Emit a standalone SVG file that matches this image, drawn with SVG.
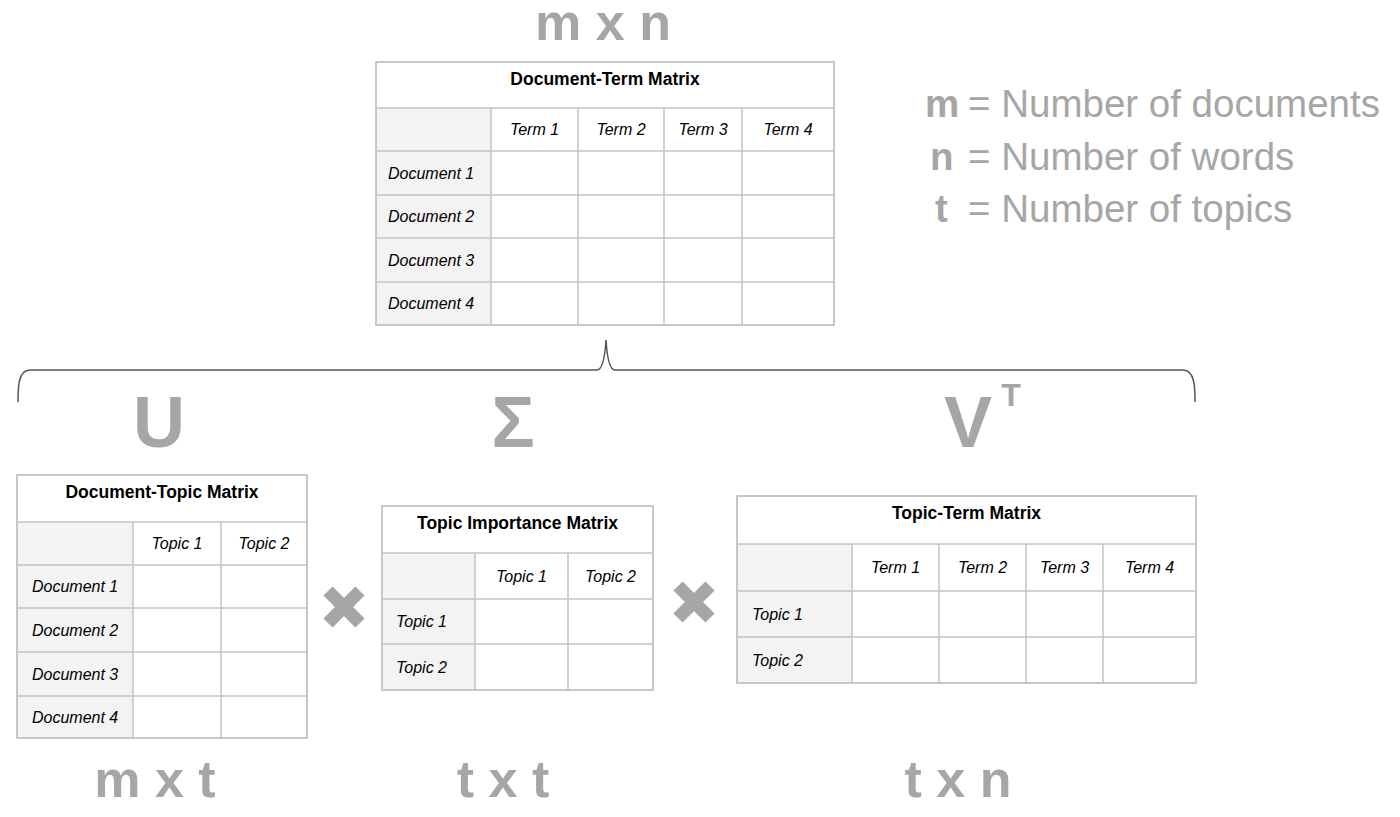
<svg xmlns="http://www.w3.org/2000/svg" width="1400" height="817" viewBox="0 0 1400 817">
<style>
.bg{fill:#ffffff}
.frame{fill:#ffffff;stroke:#c4c4c4;stroke-width:1.5}
.lab{fill:#f3f3f3;stroke:none}
.grid{stroke:#c4c4c4;stroke-width:1.5;fill:none}
.title{font-family:"Liberation Sans",Arial,sans-serif;font-weight:bold;font-size:17.5px;fill:#000;text-anchor:middle}
.hd{font-family:"Liberation Sans",Arial,sans-serif;font-style:italic;font-size:16px;fill:#000;text-anchor:middle}
.rw{font-family:"Liberation Sans",Arial,sans-serif;font-style:italic;font-size:16px;fill:#000}
.big{font-family:"Liberation Sans",Arial,sans-serif;font-weight:bold;font-size:52px;fill:#a6a6a6;text-anchor:middle}
.sym{font-family:"Liberation Sans",Arial,sans-serif;font-weight:bold;font-size:72px;fill:#a6a6a6;text-anchor:middle}
.leg{font-family:"Liberation Sans",Arial,sans-serif;font-size:38.5px;fill:#a6a6a6}
.legb{font-family:"Liberation Sans",Arial,sans-serif;font-size:38.5px;font-weight:bold;fill:#a6a6a6}
.brace{fill:none;stroke:#555555;stroke-width:1.5}
.times{stroke:#a6a6a6;stroke-width:13;stroke-linecap:butt}
</style>
<rect class="bg" x="0" y="0" width="1400" height="817"/>

<g id="label-mxn"><text class="big" x="603" y="40">m x n</text></g>

<g id="legend">
  <text class="legb" x="925" y="117">m</text><text class="leg" x="968" y="117">= Number of documents</text>
  <text class="legb" x="930" y="170">n</text><text class="leg" x="968" y="170">= Number of words</text>
  <text class="legb" x="935" y="222">t</text><text class="leg" x="968" y="222">= Number of topics</text>
</g>

<g id="document-term-matrix">
  <rect class="frame" x="376" y="62" width="458" height="263"/>
  <rect class="lab" x="377" y="108" width="114" height="216"/>
  <path class="grid" d="M376,108H834M376,151H834M376,195H834M376,238H834M376,282H834M491,108V325M578,108V325M664,108V325M742,108V325"/>
  <rect class="frame" x="376" y="62" width="458" height="263" style="fill:none"/>
  <text class="title" x="605" y="85">Document-Term Matrix</text>
  <text class="hd" x="534.5" y="135">Term 1</text>
  <text class="hd" x="621" y="135">Term 2</text>
  <text class="hd" x="703" y="135">Term 3</text>
  <text class="hd" x="788" y="135">Term 4</text>
  <text class="rw" x="388" y="178.5">Document 1</text>
  <text class="rw" x="388" y="222">Document 2</text>
  <text class="rw" x="388" y="265.5">Document 3</text>
  <text class="rw" x="388" y="309">Document 4</text>
</g>

<g id="connectors">
  <path class="brace" d="M18,402C18,388 18,370 30,370L597,370C603,370 605,356 606,340C607,356 609,370 615,370L1183,370C1195,370 1195,388 1195,402"/>
</g>

<g id="label-U"><text class="sym" x="159" y="447">U</text></g>
<g id="label-Sigma"><text class="sym" x="513" y="447">Σ</text></g>
<g id="label-VT"><text class="sym" x="968" y="447">V</text><text class="sym" x="1011" y="406" style="font-size:32px">T</text></g>

<g id="document-topic-matrix">
  <rect class="frame" x="17" y="475" width="290" height="263"/>
  <rect class="lab" x="18" y="522" width="115" height="215"/>
  <path class="grid" d="M17,522H307M17,565H307M17,608H307M17,652H307M17,696H307M133,522V738M221,522V738"/>
  <rect class="frame" x="17" y="475" width="290" height="263" style="fill:none"/>
  <text class="title" x="162" y="498">Document-Topic Matrix</text>
  <text class="hd" x="177" y="549">Topic 1</text>
  <text class="hd" x="264" y="549">Topic 2</text>
  <text class="rw" x="32" y="592">Document 1</text>
  <text class="rw" x="32" y="635.5">Document 2</text>
  <text class="rw" x="32" y="679.5">Document 3</text>
  <text class="rw" x="32" y="722.5">Document 4</text>
</g>

<g id="times-1"><path class="times" d="M328,591L360,623M360,591L328,623"/></g>

<g id="topic-importance-matrix">
  <rect class="frame" x="382" y="506" width="271" height="184"/>
  <rect class="lab" x="383" y="553" width="92" height="136"/>
  <path class="grid" d="M382,553H653M382,599H653M382,644H653M475,553V690M568,553V690"/>
  <rect class="frame" x="382" y="506" width="271" height="184" style="fill:none"/>
  <text class="title" x="517.5" y="529">Topic Importance Matrix</text>
  <text class="hd" x="521.5" y="582">Topic 1</text>
  <text class="hd" x="610.5" y="582">Topic 2</text>
  <text class="rw" x="396" y="627">Topic 1</text>
  <text class="rw" x="396" y="672.5">Topic 2</text>
</g>

<g id="times-2"><path class="times" d="M678,586L710,618M710,586L678,618"/></g>

<g id="topic-term-matrix">
  <rect class="frame" x="737" y="496" width="459" height="187"/>
  <rect class="lab" x="738" y="544" width="114" height="138"/>
  <path class="grid" d="M737,544H1196M737,591H1196M737,637H1196M852,544V683M939,544V683M1026,544V683M1103,544V683"/>
  <rect class="frame" x="737" y="496" width="459" height="187" style="fill:none"/>
  <text class="title" x="966.5" y="519">Topic-Term Matrix</text>
  <text class="hd" x="895.5" y="573">Term 1</text>
  <text class="hd" x="982.5" y="573">Term 2</text>
  <text class="hd" x="1064.5" y="573">Term 3</text>
  <text class="hd" x="1149.5" y="573">Term 4</text>
  <text class="rw" x="752" y="619.5">Topic 1</text>
  <text class="rw" x="752" y="665.5">Topic 2</text>
</g>

<g id="label-mxt"><text class="big" x="155" y="797">m x t</text></g>
<g id="label-txt"><text class="big" x="503" y="797">t x t</text></g>
<g id="label-txn"><text class="big" x="958" y="797">t x n</text></g>
</svg>
